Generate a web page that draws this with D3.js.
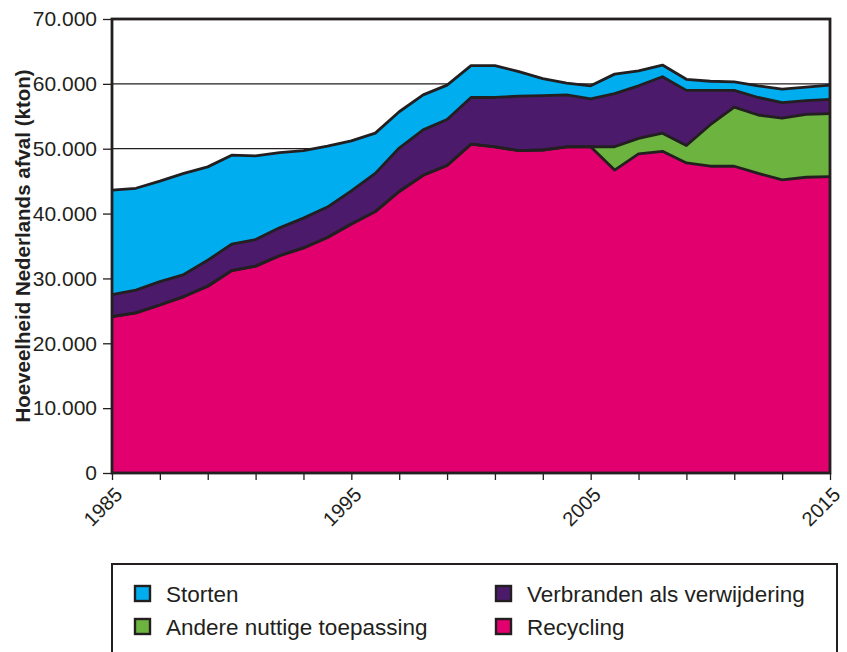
<!DOCTYPE html>
<html>
<head>
<meta charset="utf-8">
<script src="https://cdn.jsdelivr.net/npm/d3@7"></script>
<style>
  body { margin: 0; background: #fff; }
  svg text { font-family: 'Liberation Sans', Arial, sans-serif; fill: #231f20; }
</style>
</head>
<body>
<svg width="847" height="652"></svg>
<script>
let years = d3.range(1985, 2016)
let recycling = [24100, 24700, 25900, 27200, 28800, 31200, 31900, 33500, 34700, 36300,
  38400, 40300, 43400, 45900, 47400, 50700, 50300, 49700, 49800, 50300,
  50300, 46700, 49200, 49600, 47800, 47300, 47300, 46200, 45200, 45600, 45700]
let andere = [0, 0, 0, 0, 0, 0, 0, 0, 0, 0,
  0, 0, 0, 0, 0, 0, 0, 0, 0, 0,
  0, 3600, 2400, 2800, 2700, 6400, 9100, 9000, 9500, 9700, 9700]
let verbranden = [3400, 3500, 3600, 3400, 4000, 4100, 4100, 4300, 4600, 4700,
  5100, 5900, 6700, 7000, 7100, 7200, 7600, 8400, 8400, 8000,
  7400, 8200, 8100, 8700, 8500, 5300, 2600, 2700, 2400, 2100, 2200]
let storten = [16100, 15700, 15500, 15600, 14400, 13700, 12900, 11600, 10400, 9400,
  7700, 6200, 5600, 5400, 5300, 4900, 4900, 3800, 2600, 1800,
  2000, 3000, 2300, 1800, 1700, 1400, 1300, 1800, 2100, 2100, 2200]
let yTicks = [0, 10000, 20000, 30000, 40000, 50000, 60000, 70000]
let xTicks = d3.range(1985, 2016, 2)
let xLabels = [1985, 1995, 2005, 2015]
let keys = ['recycling', 'andere', 'verbranden', 'storten']
let names = { storten: 'Storten', verbranden: 'Verbranden als verwijdering', andere: 'Andere nuttige toepassing', recycling: 'Recycling' }
let colors = { storten: '#00aeef', verbranden: '#4b1a6b', andere: '#6cb33f', recycling: '#e2006f' }
let dark = '#231f20'

let rows = years.map((y, i) => ({
  year: y, recycling: recycling[i], andere: andere[i], verbranden: verbranden[i], storten: storten[i]
}))

let pLeft = 112, pRight = 830, pTop = 19, pBottom = 473

let x = d3.scaleLinear().domain([1985, 2015]).range([pLeft, pRight])
let y = d3.scaleLinear().domain([0, 70000]).range([pBottom, pTop])

let nl = d3.formatLocale({ decimal: ',', thousands: '.', grouping: [3], currency: ['', ''] })
let fmt = nl.format(',')

let svg = d3.select('svg')

// gridlines
svg.append('g')
  .selectAll('line')
  .data(yTicks)
  .enter()
  .append('line')
  .attr('x1', pLeft).attr('x2', pRight)
  .attr('y1', d => y(d)).attr('y2', d => y(d))
  .attr('stroke', dark).attr('stroke-width', 1.3)

let series = d3.stack().keys(keys)(rows)

let area = d3.area()
  .x(d => x(d.data.year))
  .y0(d => y(d[0]))
  .y1(d => y(d[1]))

let topLine = d3.line()
  .x(d => x(d.data.year))
  .y(d => y(d[1]))

svg.append('g')
  .selectAll('path')
  .data(series)
  .enter()
  .append('path')
  .attr('d', area)
  .attr('fill', d => colors[d.key])

svg.append('g')
  .selectAll('path')
  .data(series)
  .enter()
  .append('path')
  .attr('d', topLine)
  .attr('fill', 'none')
  .attr('stroke', dark)
  .attr('stroke-width', 2.8)
  .attr('stroke-linejoin', 'round')

// frame
svg.append('rect')
  .attr('x', pLeft).attr('y', pTop)
  .attr('width', pRight - pLeft).attr('height', pBottom - pTop)
  .attr('fill', 'none').attr('stroke', dark).attr('stroke-width', 2.8)

let yAxis = d3.axisLeft(y)
  .tickValues(yTicks)
  .tickFormat(fmt)
  .tickSize(9)
  .tickPadding(6)

let gy = svg.append('g')
  .attr('transform', 'translate(' + pLeft + ',0)')
  .call(yAxis)
gy.select('.domain').remove()
gy.selectAll('.tick line').attr('stroke', dark).attr('stroke-width', 1.3)
gy.selectAll('.tick text').attr('font-size', 21).attr('fill', dark)

let xAxis = d3.axisBottom(x)
  .tickValues(xTicks)
  .tickFormat(d => xLabels.indexOf(d) >= 0 ? d : '')
  .tickSize(7)

let gx = svg.append('g')
  .attr('transform', 'translate(0,' + pBottom + ')')
  .call(xAxis)
gx.select('.domain').remove()
gx.selectAll('.tick line').attr('stroke', dark).attr('stroke-width', 1.3)
gx.selectAll('.tick text')
  .attr('font-size', 20)
  .attr('fill', dark)
  .attr('dy', null)
  .attr('y', 0)
  .style('text-anchor', 'end')
  .attr('transform', 'translate(11,23) rotate(-45)')

svg.append('text')
  .attr('transform', 'translate(30,' + ((pTop + pBottom) / 2) + ') rotate(-90)')
  .attr('text-anchor', 'middle')
  .attr('font-size', 20.5)
  .attr('font-weight', 'bold')
  .text('Hoeveelheid Nederlands afval (kton)')

// legend
svg.append('rect')
  .attr('x', 112).attr('y', 564)
  .attr('width', 725).attr('height', 100)
  .attr('fill', 'none').attr('stroke', dark).attr('stroke-width', 2)

let legendOrder = ['storten', 'verbranden', 'andere', 'recycling']
let lg = svg.append('g')
  .selectAll('g')
  .data(legendOrder)
  .enter()
  .append('g')
  .attr('transform', (d, i) => 'translate(' + (i % 2 ? 496 : 135) + ',' + (586 + Math.floor(i / 2) * 33) + ')')

lg.append('rect')
  .attr('width', 15).attr('height', 15)
  .attr('fill', d => colors[d])
  .attr('stroke', dark).attr('stroke-width', 2.4)

lg.append('text')
  .attr('x', 31).attr('y', 15.5)
  .attr('font-size', 22.5)
  .text(d => names[d])
</script>
</body>
</html>
